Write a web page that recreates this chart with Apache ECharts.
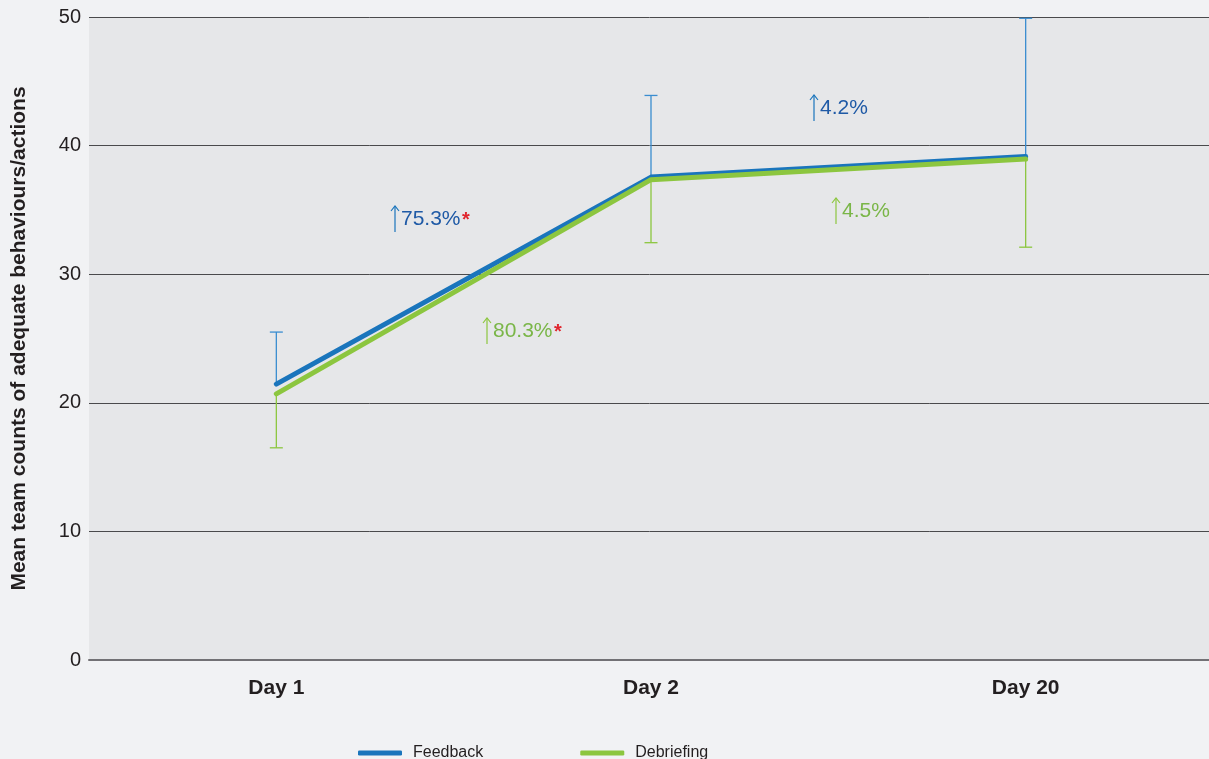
<!DOCTYPE html>
<html>
<head>
<meta charset="utf-8">
<script src="https://cdn.jsdelivr.net/npm/echarts@6/dist/echarts.min.js"></script>
<style>
html,body{margin:0;padding:0;background:#f1f2f4;}
#c{width:1209px;height:759px;}
</style>
</head>
<body>
<div id="c"></div>
<script>
const categories = ['Day 1', 'Day 2', 'Day 20'];
const feedbackMean = [21.45, 37.55, 39.15];
const feedbackUpper = [25.5, 43.9, 49.9];
const debriefMean = [20.7, 37.35, 38.95];
const debriefLower = [16.5, 32.45, 32.1];
const yTicks = [0, 10, 20, 30, 40, 50];
const seriesNames = ['Feedback', 'Debriefing'];
const annotations = [
  {text: '75.3%', star: true},
  {text: '80.3%', star: true},
  {text: '4.2%', star: false},
  {text: '4.5%', star: false}
];

const BLUE = '#1a75bc', BLUE_ERR = '#3a8dd0', BLUE_TXT = '#1f5aa6';
const GREEN = '#8cc63f', GREEN_ERR = '#8cc63f', GREEN_TXT = '#7ab648';
const FONT = '"Liberation Sans", Arial, Helvetica, sans-serif';

function errData(mean, bound) {
  return mean.map((m, i) => [i, m, bound[i]]);
}
function errRender(color) {
  return function (params, api) {
    const i = api.value(0);
    const p1 = api.coord([i, api.value(1)]);
    const p2 = api.coord([i, api.value(2)]);
    const hw = 6.5;
    return {
      type: 'group',
      children: [
        {type: 'line', shape: {x1: p1[0], y1: p1[1], x2: p2[0], y2: p2[1]}, style: {stroke: color, lineWidth: 1.3}},
        {type: 'line', shape: {x1: p2[0] - hw, y1: p2[1], x2: p2[0] + hw, y2: p2[1]}, style: {stroke: color, lineWidth: 1.3}}
      ]
    };
  };
}

function annot(x, yc, a, arrowColor, textColor) {
  const children = [
    {type: 'line', shape: {x1: x, y1: yc - 13, x2: x, y2: yc + 13}, style: {stroke: arrowColor, lineWidth: 1.2}},
    {type: 'polyline', shape: {points: [[x - 4, yc - 8], [x, yc - 13], [x + 4, yc - 8]]}, style: {stroke: arrowColor, lineWidth: 1.2, fill: null}},
    {type: 'text', x: x + 6, y: yc, style: {text: a.text, font: '21px ' + FONT, fill: textColor, textVerticalAlign: 'middle', textAlign: 'left'}}
  ];
  if (a.star) {
    children.push({type: 'text', x: x + 6 + (a.text.length === 5 ? 61 : 48), y: yc + 1,
      style: {text: '*', font: 'bold 20px ' + FONT, fill: '#e0262e', textVerticalAlign: 'middle', textAlign: 'left'}});
  }
  return {type: 'group', children: children, z: 100};
}

const chart = echarts.init(document.getElementById('c'), null, {renderer: 'canvas'});
chart.setOption({
  backgroundColor: '#f1f2f4',
  animation: false,
  textStyle: {fontFamily: FONT},
  grid: {left: 89, top: 17, width: 1124, height: 643, show: true, backgroundColor: '#e6e7e9', borderWidth: 0,
    containLabel: false, outerBoundsMode: 'none'},
  legend: {
    data: seriesNames.map(n => ({name: n})),
    left: 358, top: 745, padding: 0,
    icon: 'roundRect', itemWidth: 44, itemHeight: 5, itemGap: 97,
    textStyle: {fontSize: 16, color: '#231f20', fontFamily: FONT, padding: [0, 0, 0, 6]}
  },
  xAxis: {
    type: 'category', data: categories, boundaryGap: true,
    axisLine: {show: true, lineStyle: {color: '#727175', width: 2}},
    axisTick: {show: false},
    axisLabel: {fontSize: 21, fontWeight: 'bold', color: '#231f20', margin: 18, fontFamily: FONT},
    splitLine: {show: false}
  },
  yAxis: {
    type: 'value', min: yTicks[0], max: yTicks[yTicks.length - 1], interval: 10,
    name: 'Mean team counts of adequate behaviours/actions',
    nameLocation: 'middle', nameGap: 59, nameRotate: 90,
    nameTextStyle: {fontSize: 21, fontWeight: 'bold', color: '#231f20', fontFamily: FONT},
    axisLine: {show: false}, axisTick: {show: false},
    axisLabel: {fontSize: 20, color: '#231f20', margin: 8, fontFamily: FONT},
    splitLine: {show: true, lineStyle: {color: '#4a4a4c', width: 1}}
  },
  series: [
    {type: 'custom', name: 'fbErr', data: errData(feedbackMean, feedbackUpper), renderItem: errRender(BLUE_ERR), z: 2, silent: true, encode: {x: 0, y: [1, 2]}},
    {type: 'custom', name: 'dbErr', data: errData(debriefMean, debriefLower), renderItem: errRender(GREEN_ERR), z: 2, silent: true, encode: {x: 0, y: [1, 2]}},
    {type: 'line', name: seriesNames[0], data: feedbackMean, symbol: 'none', z: 3,
      lineStyle: {color: BLUE, width: 5, cap: 'round', join: 'round'}, itemStyle: {color: BLUE}},
    {type: 'line', name: seriesNames[1], data: debriefMean, symbol: 'none', z: 4,
      lineStyle: {color: GREEN, width: 5, cap: 'round', join: 'round'}, itemStyle: {color: GREEN}}
  ],
  graphic: [
    annot(395, 219, annotations[0], BLUE, BLUE_TXT),
    annot(487, 331, annotations[1], GREEN, GREEN_TXT),
    annot(814, 108, annotations[2], BLUE, BLUE_TXT),
    annot(836, 211, annotations[3], GREEN, GREEN_TXT)
  ]
});
</script>
</body>
</html>
